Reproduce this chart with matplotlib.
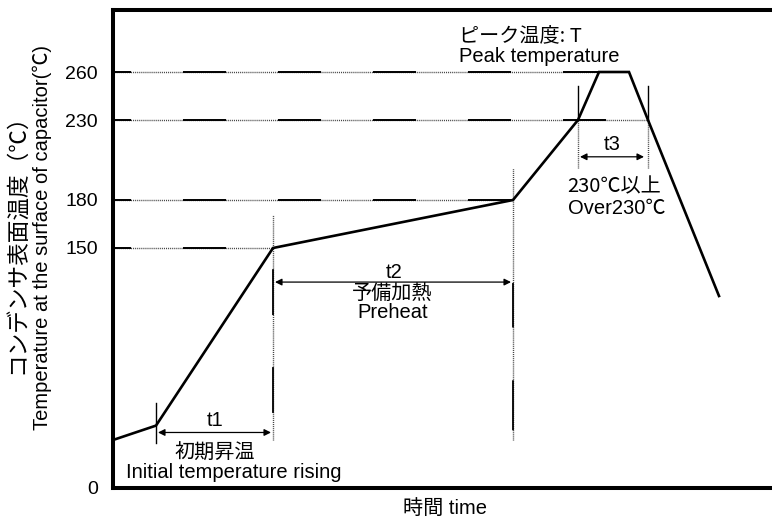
import matplotlib
matplotlib.use('Agg')
import matplotlib.pyplot as plt

plt.rcParams['font.family'] = ['Liberation Sans', 'Noto Sans CJK JP', 'DejaVu Sans']
plt.rcParams['lines.scale_dashes'] = False

# reflow profile (time in arbitrary units, temperature in degC)
time = [0, 43, 160, 400, 465, 486, 516, 535, 606]
temp = [30, 39, 150, 180, 230, 260, 260, 230, 120]

# reference levels and where each guide line ends
levels = [150, 180, 230, 260]
level_ends = [160, 400, 535, 486]
ytick_vals = [0, 150, 180, 230, 260]

# phase boundaries
t_start_rise = 43
t_preheat = [160, 400]
t_over = [465, 535]

guide_gray = '0.25'
dot = (0, (0.7, 0.7))
jp = ['Noto Sans CJK JP', 'DejaVu Sans']

fig = plt.figure(figsize=(7.72, 5.18), dpi=100)
ax = fig.add_axes([113 / 772, 30 / 518, 1 - 113 / 772, 478 / 518])
ax.set_xlim(0, 659)
ax.set_ylim(0, 298.75)

# horizontal guide lines: thin dotted base with long black dashes on top
for lv, end in zip(levels, level_ends):
    ax.plot([0, end], [lv, lv], color=guide_gray, lw=1.0, ls=dot, zorder=1)
    ax.plot([0, end], [lv, lv], color='black', lw=1.4,
            ls=(18, (31, 37.4)), zorder=2)

# vertical guide lines for preheat boundaries (drawn bottom -> top)
vdash = [(228, (33, 37.5, 33, 144)), (243, (36, 38, 32, 144))]
v_tops = [170.6, 200]
for tx, top, style in zip(t_preheat, v_tops, vdash):
    ax.plot([tx, tx], [30, top], color=guide_gray, lw=1.0, ls=dot, zorder=1)
    ax.plot([tx, tx], [30, top], color='black', lw=1.3, ls=style, zorder=2)

# start-of-rise tick
ax.plot([t_start_rise, t_start_rise], [28, 53], color='black', lw=1.0, zorder=2)

# over-230 boundaries
for tx in t_over:
    ax.plot([tx, tx], [200, 230], color=guide_gray, lw=1.0, ls=dot, zorder=1)
    ax.plot([tx, tx], [230, 251], color='black', lw=1.0, zorder=2)

# the profile itself
ax.plot(time, temp, color='black', lw=1.9, solid_joinstyle='miter', zorder=3)

# duration arrows
arrow = dict(arrowstyle='<|-|>', color='black', lw=0.9, mutation_scale=10,
             shrinkA=0, shrinkB=0)
ax.annotate('', xy=(158, 34.7), xytext=(45, 34.7), arrowprops=arrow)
ax.annotate('', xy=(398, 128.7), xytext=(162, 128.7), arrowprops=arrow)
ax.annotate('', xy=(531, 207), xytext=(467, 207), arrowprops=arrow)

fs = 14.5
ax.text(102, 42.5, 't1', fontsize=fs, ha='center', va='center')
ax.text(102, 21.9, '初期昇温', fontsize=fs, ha='center', va='center', family=jp)
ax.text(121, 9.4, 'Initial temperature rising', fontsize=fs, ha='center', va='center')
ax.text(281, 135, 't2', fontsize=fs, ha='center', va='center')
ax.text(279, 121.5, '予備加熱', fontsize=fs, ha='center', va='center', family=jp)
ax.text(280, 109.5, 'Preheat', fontsize=fs, ha='center', va='center')
ax.text(499, 214.4, 't3', fontsize=fs, ha='center', va='center')
ax.text(454, 188, '230℃以上', fontsize=fs, ha='left', va='center', family=jp)
ax.text(455, 174.4, 'Over230℃', fontsize=fs, ha='left', va='center')
ax.text(346, 282.5, 'ピーク温度: T', fontsize=fs, ha='left', va='center', family=jp)
ax.text(346, 269.4, 'Peak temperature', fontsize=fs, ha='left', va='center')

# axes styling
ax.set_yticks(ytick_vals)
ax.set_yticklabels([str(v) for v in ytick_vals])
ax.set_xticks([])
ax.tick_params(axis='y', length=0, pad=11, labelsize=14)
for side in ['left', 'top', 'bottom']:
    ax.spines[side].set_linewidth(2.9)
ax.spines['right'].set_visible(False)

# axis titles, anchored at their lower ends
fig.text(17 / 772, 1 - 374 / 518, 'コンデンサ表面温度（℃）', rotation=90,
         fontsize=16.3, ha='center', va='bottom', family=jp)
fig.text(42 / 772, 1 - 430 / 518, 'Temperature at the surface of capacitor(℃)',
         rotation=90, fontsize=fs, ha='center', va='bottom')
fig.text(445 / 772, 1 - 508 / 518, '時間 time', fontsize=fs, ha='center', va='center')

fig.savefig('out.png', dpi=100)
